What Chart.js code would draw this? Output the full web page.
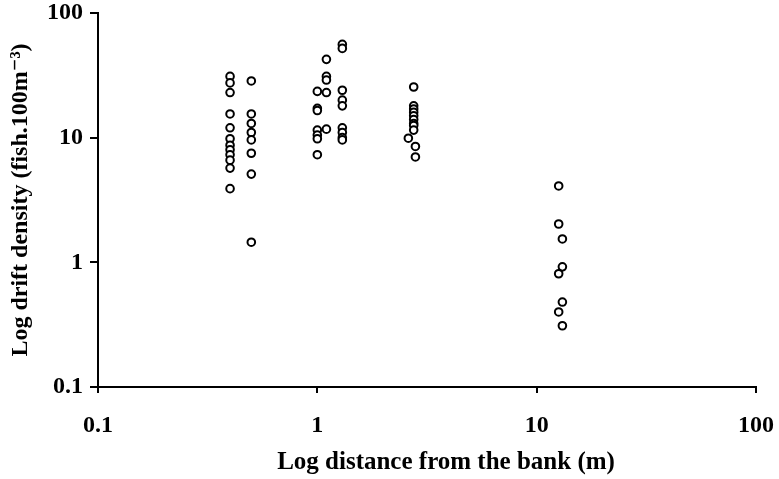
<!DOCTYPE html>
<html>
<head>
<meta charset="utf-8">
<script src="https://cdn.jsdelivr.net/npm/chart.js@4"></script>
<style>
  html, body { margin: 0; padding: 0; background: #fff; }
  #wrap { width: 779px; height: 479px; }
</style>
</head>
<body>
<div id="wrap"><canvas id="chart"></canvas></div>
<script>
// distance from bank (m) and drift density (fish.100m-3)
const distance = [
  0.4, 0.4, 0.4, 0.4, 0.4, 0.4, 0.4, 0.4, 0.4, 0.4, 0.4, 0.4,
  0.5, 0.5, 0.5, 0.5, 0.5, 0.5, 0.5, 0.5,
  1.0, 1.0, 1.0, 1.0, 1.0, 1.0, 1.0,
  1.1, 1.1, 1.1, 1.1, 1.1,
  1.3, 1.3, 1.3, 1.3, 1.3, 1.3, 1.3, 1.3, 1.3,
  2.75, 2.75, 2.75, 2.75, 2.75, 2.75, 2.75, 2.75, 2.75, 2.6, 2.8, 2.8,
  12.6, 12.6, 12.6, 12.6, 13.1, 13.1, 13.1, 13.1
];
const density = [
  31, 27.5, 23, 15.5, 12, 9.8, 8.7, 8, 7.3, 6.6, 5.7, 3.9,
  28.5, 15.5, 13, 11, 9.6, 7.5, 5.1, 1.45,
  23.5, 17.2, 16.5, 11.5, 10.5, 9.8, 7.3,
  42.5, 31, 29, 23, 11.7,
  56, 52, 24, 20, 18, 12, 11, 10, 9.6,
  25.5, 18, 17, 16, 15, 14, 13, 12.5, 11.5, 9.9, 8.5, 7.0,
  4.1, 2.03, 0.81, 0.40, 1.54, 0.92, 0.48, 0.31
];
const xTicks = [0.1, 1, 10, 100];
const yTicks = [0.1, 1, 10, 100];
const xTitle = 'Log distance from the bank (m)';
const yTitle = 'Log drift density (fish.100m\u207B\u00B3)';

const points = distance.map((d, i) => ({ x: d, y: density[i] }));
const serif = "'Liberation Serif', 'DejaVu Serif', serif";
const tickFont = { family: serif, size: 24, weight: 'bold' };
const titleFont = { family: serif, size: 24, weight: 'bold' };

// the x title sits a little right of the axis centre in the original
const xTitlePlugin = {
  id: 'xTitle',
  afterDraw(chart) {
    const ctx = chart.ctx;
    ctx.save();
    ctx.font = "bold 25px " + serif;
    ctx.fillStyle = '#000';
    ctx.textAlign = 'center';
    ctx.textBaseline = 'middle';
    ctx.fillText(xTitle, chart.chartArea.left + 348, chart.chartArea.bottom + 76);
    ctx.restore();
  }
};

new Chart(document.getElementById('chart'), {
  type: 'scatter',
  data: {
    datasets: [{
      data: points,
      pointStyle: 'circle',
      pointRadius: 3.8,
      pointBorderWidth: 2,
      pointBorderColor: '#000',
      pointBackgroundColor: '#fff'
    }]
  },
  plugins: [xTitlePlugin],
  options: {
    responsive: true,
    maintainAspectRatio: false,
    animation: false,
    layout: { padding: { top: 13, right: 23, left: 0, bottom: 0 } },
    plugins: { legend: { display: false }, tooltip: { enabled: false } },
    scales: {
      x: {
        type: 'logarithmic',
        min: 0.1, max: 100,
        afterBuildTicks: (axis) => { axis.ticks = xTicks.map(v => ({ value: v })); },
        afterFit: (s) => { s.height = 92; s.paddingLeft = 0; s.paddingRight = 0; },
        ticks: {
          color: '#000', font: tickFont, padding: 18, maxRotation: 0,
          callback: (v) => String(v)
        },
        grid: { drawOnChartArea: false, drawTicks: true, tickLength: 6, color: '#000', lineWidth: 2 },
        border: { display: true, color: '#000', width: 2 },
        title: { display: false }
      },
      y: {
        type: 'logarithmic',
        min: 0.1, max: 100,
        afterBuildTicks: (axis) => { axis.ticks = yTicks.map(v => ({ value: v })); },
        afterFit: (s) => { s.width = 98; s.paddingTop = 0; s.paddingBottom = 0; },
        ticks: {
          color: '#000', font: tickFont, padding: 7,
          callback: (v) => String(v)
        },
        grid: { drawOnChartArea: false, drawTicks: true, tickLength: 8, color: '#000', lineWidth: 2 },
        border: { display: true, color: '#000', width: 2 },
        title: { display: true, text: yTitle, color: '#000', font: titleFont, padding: { top: 6, bottom: 0 } }
      }
    }
  }
});
</script>
</body>
</html>
